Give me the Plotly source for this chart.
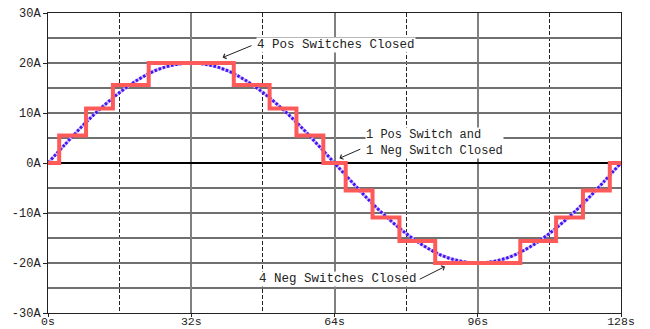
import plotly.graph_objects as go

# Sine-like reference current (values read every 4 s)
sine_t = [0, 4, 8, 12, 16, 20, 24, 28, 32, 36, 40, 44, 48, 52, 56, 60, 64,
          68, 72, 76, 80, 84, 88, 92, 96, 100, 104, 108, 112, 116, 120, 124, 128]
sine_a = [0, 3.9, 7.7, 11.1, 14.1, 16.6, 18.5, 19.6, 20, 19.6, 18.5, 16.6, 14.1, 11.1, 7.7, 3.9, 0,
          -3.9, -7.7, -11.1, -14.1, -16.6, -18.5, -19.6, -20, -19.6, -18.5, -16.6, -14.1, -11.1, -7.7, -3.9, 0]

# Staircase (switch-level) current
step_t = [0, 2.5, 8.5, 14.5, 22.5, 41.5, 49.5, 55.5, 61.5, 66.5, 72.5, 78.5, 86.5,
          105.5, 113.5, 119.5, 125.5, 128]
step_a = [0, 5.5, 10.9, 15.6, 20, 15.6, 10.9, 5.5, 0, -5.5, -10.9, -15.6, -20,
          -15.6, -10.9, -5.5, 0, 0]

x_ticks = [0, 32, 64, 96, 128]
x_labels = ["0s", "32s", "64s", "96s", "128s"]
y_ticks = [-30, -20, -10, 0, 10, 20, 30]
y_labels = ["-30A", "-20A", "-10A", "0A", "10A", "20A", "30A"]

FONT = "Liberation Mono, Courier New, monospace"

fig = go.Figure()
fig.add_trace(go.Scatter(x=sine_t, y=sine_a, mode="lines",
                         line=dict(color="#c4bcff", width=3, shape="spline"),
                         hoverinfo="skip", showlegend=False))
fig.add_trace(go.Scatter(x=sine_t, y=sine_a, mode="lines",
                         line=dict(color="#4a12f0", width=3, shape="spline", dash="2.5px,1.8px"),
                         showlegend=False))
fig.add_trace(go.Scatter(x=step_t, y=step_a, mode="lines",
                         line=dict(color="#ff5a5a", width=4, shape="hv"),
                         showlegend=False))

ann_font = dict(family=FONT, size=12.5, color="#222")
arrow = dict(showarrow=True, arrowhead=4, arrowsize=1, arrowwidth=1, arrowcolor="#222",
             axref="x", ayref="y", text="")
annotations = [
    dict(x=46.5, y=23.6, text="4 Pos Switches Closed", xanchor="left", yanchor="middle",
         showarrow=False, bgcolor="white", font=ann_font, borderpad=0),
    dict(x=39.0, y=21.1, ax=45.8, ay=23.6, **arrow),
    dict(x=70.8, y=4.0, text="1 Pos Switch and<br>1 Neg Switch Closed", xanchor="left",
         yanchor="middle", align="left", showarrow=False, bgcolor="white",
         font=dict(family=FONT, size=12, color="#222"), borderpad=0),
    dict(x=65.1, y=0.94, ax=70.1, ay=2.9, **arrow),
    dict(x=46.9, y=-23.2, text="4 Neg Switches Closed", xanchor="left", yanchor="middle",
         showarrow=False, bgcolor="white", font=ann_font, borderpad=0),
    dict(x=88.7, y=-20.7, ax=82.7, ay=-23.4, **arrow),
]

fig.update_layout(
    width=650, height=329,
    margin=dict(l=48, r=29, t=13, b=16),
    paper_bgcolor="white", plot_bgcolor="white",
    font=dict(family=FONT, size=12, color="#222"),
    annotations=annotations,
    xaxis=dict(range=[0, 128], tickvals=x_ticks, ticktext=x_labels, automargin=False,
               showgrid=True, gridcolor="#808080", gridwidth=1.5,
               minor=dict(dtick=16, tick0=0, showgrid=True, gridcolor="#222",
                          gridwidth=1, griddash="4px,2px"),
               showline=True, linecolor="#222", linewidth=1, mirror=True,
               ticks="outside", ticklen=3, tickcolor="#222", ticklabelstandoff=-6,
               tickfont=dict(size=11.5),
               zeroline=False, fixedrange=True),
    yaxis=dict(range=[-30, 30], tickvals=y_ticks, ticktext=y_labels, automargin=False,
               showgrid=True, gridcolor="#707070", gridwidth=1.5,
               minor=dict(dtick=5, tick0=0, showgrid=True, gridcolor="#707070", gridwidth=1.5),
               showline=True, linecolor="#222", linewidth=1, mirror=True,
               ticks="outside", ticklen=4, tickcolor="#222",
               zeroline=True, zerolinecolor="#000", zerolinewidth=2,
               fixedrange=True),
)

# Remove the browser's default 8px body margin so the figure fills the window exactly.
fig.write_html("out.html", config={"displayModeBar": False},
               post_script="document.body.style.margin='0';document.body.style.overflow='hidden';")
